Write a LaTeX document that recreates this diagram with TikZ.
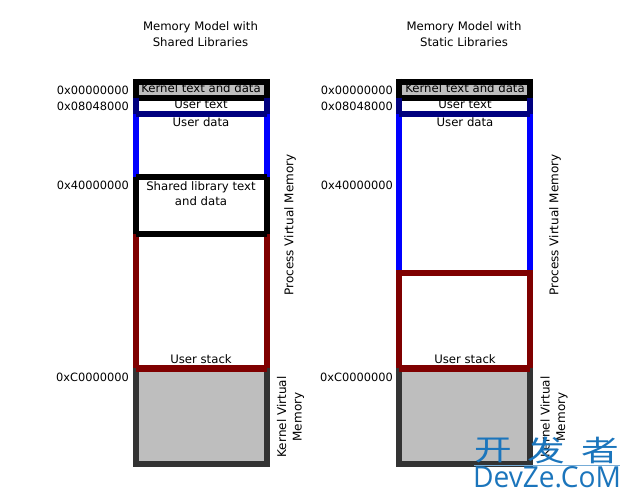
\documentclass[tikz,border=0pt]{standalone}
\usepackage{fontspec}
\setmainfont{DejaVu Sans}
\newfontfamily\cjkwm{Noto Sans CJK SC}
\newfontfamily\latinwm{Open Sans}
\definecolor{cgray}{HTML}{BEBEBE}
\definecolor{cnavy}{HTML}{00007F}
\definecolor{cblue}{HTML}{0000FF}
\definecolor{cred}{HTML}{7F0000}
\definecolor{cdark}{HTML}{333333}
\definecolor{cwm}{HTML}{1B75BC}
\tikzset{
  wall/.style={line width=6.3pt,line cap=butt},
  bar/.style={line width=6.5pt,line cap=butt},
  lbl/.style={inner sep=0pt,font=\fontsize{11.7}{15.5}\selectfont,align=center},
  addr/.style={inner sep=0pt,anchor=east,font=\fontsize{11.4}{15.5}\selectfont},
  side/.style={inner sep=0pt,align=center,rotate=90,font=\fontsize{12}{15.5}\selectfont},
  wmcn/.style={inner sep=0pt,text=cwm,xscale=1.3,font=\cjkwm\fontsize{29}{29}\selectfont},
}
\newcommand{\memcol}[3]{% #1 left outer x, #2 y where blue ends, #3 has shared lib (1/0)
  \pgfmathsetmacro{\xl}{#1+3}
  \pgfmathsetmacro{\xr}{#1+134}
  \fill[cgray] (\xl,85) rectangle (\xr,95);
  \fill[cgray] (\xl,372) rectangle (\xr,461);
  \draw[wall,black] (\xl,79) -- (\xl,98) (\xr,79) -- (\xr,98);
  \draw[wall,cnavy] (\xl,98) -- (\xl,114) (\xr,98) -- (\xr,114);
  \draw[wall,cblue] (\xl,114) -- (\xl,#2) (\xr,114) -- (\xr,#2);
  \draw[wall,cdark] (\xl,368) -- (\xl,467) (\xr,368) -- (\xr,467);
  \draw[line width=6.3pt,black] (\xl-3,82) -- (\xr+3,82);
  \draw[bar,black] (\xl+3,98) -- (\xr-3,98);
  \draw[bar,cnavy] (\xl,114) -- (\xr,114);
  \draw[bar,cred] (\xl,368.5) -- (\xr,368.5);
  \draw[line width=6.3pt,cdark] (\xl-3,464) -- (\xr+3,464);
}
\begin{document}
\begin{tikzpicture}[x=1pt,y=-1pt]
\useasboundingbox (0,0) rectangle (630,500);
\fill[white] (0,0) rectangle (630,500);
% left column
\memcol{133}{177}{1}
\draw[wall,black] (136,177) -- (136,234) (267,177) -- (267,234);
\draw[wall,cred] (136,234) -- (136,368) (267,234) -- (267,368);
\draw[bar,black] (136,177) -- (267,177);
\draw[bar,black] (136,234) -- (267,234);
\draw[bar,cred] (136,368.5) -- (267,368.5);
% right column
\memcol{396}{273}{0}
\draw[wall,cred] (399,273) -- (399,368) (530,273) -- (530,368);
\draw[bar,cred] (396,273) -- (533,273);
\draw[bar,cred] (399,368.5) -- (530,368.5);
% titles
\node[lbl] (t1) at (200.5,34) {Memory Model with\\Shared Libraries};
\node[lbl] (t2) at (464,34) {Memory Model with\\Static Libraries};
% left labels
\node[addr] (a1) at (129,90) {0x00000000};
\node[addr] (a2) at (129,106) {0x08048000};
\node[addr] (a3) at (129,185) {0x40000000};
\node[addr] (a4) at (129,377) {0xC0000000};
\node[lbl] (k1) at (201,88.5) {Kernel text and data};
\node[lbl] (u1) at (201,104.5) {User text};
\node[lbl] (d1) at (201,122.5) {User data};
\node[lbl] (s1) at (201,193.5) {Shared library text\\and data};
\node[lbl] (st1) at (201,359.5) {User stack};
\node[side] (p1) at (290,225) {Process Virtual Memory};
\node[side] (v1) at (290.5,417) {Kernel Virtual\\Memory};
% right labels
\node[addr] (b1) at (393,90) {0x00000000};
\node[addr] (b2) at (393,106) {0x08048000};
\node[addr] (b3) at (393,185) {0x40000000};
\node[addr] (b4) at (393,377) {0xC0000000};
\node[lbl] (k2) at (465,88.5) {Kernel text and data};
\node[lbl] (u2) at (465,104.5) {User text};
\node[lbl] (d2) at (465,122.5) {User data};
\node[lbl] (st2) at (465,359.5) {User stack};
\node[side] (p2) at (555,225) {Process Virtual Memory};
\node[side] (v2) at (554,417) {Kernel Virtual\\Memory};
% watermark
\node[wmcn] (w1) at (493,450) {开};
\node[wmcn] (w2) at (546.5,450) {发};
\node[wmcn] (w3) at (600,450) {者};
\draw[cwm!60,line width=0.8pt] (474,465.5) -- (620,465.5);
\node[inner sep=0pt,text=cwm,xscale=0.97,font=\latinwm\fontsize{29}{29}\selectfont] (w4) at (547,477.5) {DevZe.CoM};
\end{tikzpicture}
\end{document}
